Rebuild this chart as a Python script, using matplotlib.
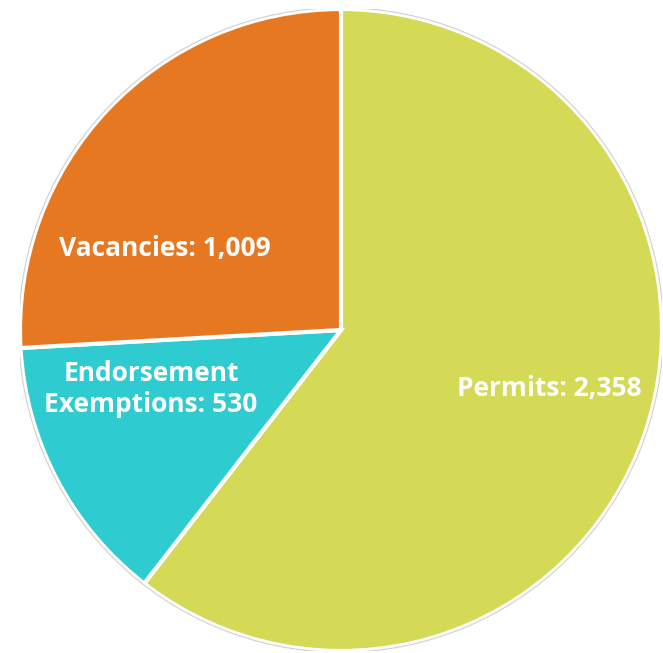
import matplotlib.pyplot as plt
from matplotlib.patches import Circle

labels = ["Permits", "Endorsement\nExemptions", "Vacancies"]
values = [2358, 530, 1009]
colors = ["#D4D956", "#2ECBD1", "#E67822"]
label_pos = [(0.648, -0.181), (-0.592, -0.184), (-0.548, 0.255)]

fig = plt.figure(figsize=(6.63, 6.53), dpi=100)
ax = fig.add_axes([20 / 663, 2 / 653, 642 / 663, 642 / 653])

ax.pie(values, colors=colors, startangle=90, counterclock=False,
       wedgeprops=dict(edgecolor="white", linewidth=3))
ax.add_patch(Circle((0, 0), 1.004, fill=False, edgecolor="#d0d0d0", linewidth=0.8))

for lab, val, (x, y) in zip(labels, values, label_pos):
    ax.text(x, y, f"{lab}: {val:,}", ha="center", va="center", color="white",
            fontsize=19, fontweight="bold", family=["Open Sans", "DejaVu Sans"],
            linespacing=1.2)

ax.set_xlim(-1.0, 1.0)
ax.set_ylim(-1.0, 1.0)
ax.set_aspect("equal")
ax.axis("off")
fig.savefig("out.png", dpi=100)
